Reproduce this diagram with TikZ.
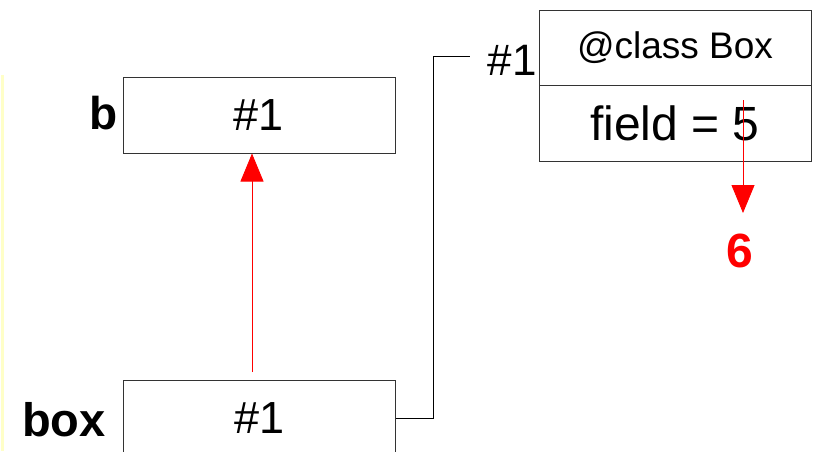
\documentclass[tikz,border=0pt]{standalone}
\usepackage{fontspec}
\setmainfont{Liberation Sans}
\usetikzlibrary{arrows.meta}
\definecolor{edge}{HTML}{333333}
\definecolor{paleyellow}{HTML}{FFFFC8}
\tikzset{
  cell/.style={draw=edge, line width=1pt, minimum width=272pt, minimum height=76pt, inner sep=0pt, font=\fontsize{45}{45}\selectfont},
  classcell/.style={draw=edge, line width=1pt, minimum width=272pt, inner sep=0pt},
  varlabel/.style={font=\fontsize{46}{46}\selectfont\bfseries, inner sep=0pt},
  link/.style={draw=black, line width=1pt},
  redarrow/.style={draw=red, line width=0.8pt, -{Triangle[length=28pt,width=23pt]}},
}
\begin{document}
\begin{tikzpicture}[x=1pt,y=-1pt]
\useasboundingbox (0,0) rectangle (814,451);
\fill[paleyellow] (0.5,75) rectangle (3.5,451);
% variable boxes
\node[cell] (b) at (259,115) {\#1};
\node[cell] (box) at (259.5,418) {\#1};
\node[varlabel, anchor=east] (blab) at (118,113) {b};
\node[varlabel, anchor=east, font=\fontsize{47}{47}\selectfont\bfseries] (boxlab) at (106,420) {box};
% object
\node[classcell, minimum height=75pt, font=\fontsize{37}{37}\selectfont] (cls) at (675,47.5) {@class Box};
\node[classcell, minimum height=76pt, font=\fontsize{48}{48}\selectfont] (fld) at (675,123) {field = 5};
\node[font=\fontsize{44}{44}\selectfont, inner sep=0pt, anchor=east] (ref) at (537,60) {\#1};
% connector from box to object reference
\coordinate (refend) at (470,56);
\draw[link] (box.east) -| (433,56) -- (refend);
% red arrows
\coordinate (arrstart) at (252,372);
\draw[redarrow] (arrstart) -- (b.south -| arrstart);
\node[font=\fontsize{48}{48}\selectfont\bfseries, text=red, inner sep=0pt] (six) at (740,251) {6};
\coordinate (fstart) at (743,100);
\coordinate (fend) at (743,213);
\draw[redarrow] (fstart) -- (fend);
\end{tikzpicture}
\end{document}
